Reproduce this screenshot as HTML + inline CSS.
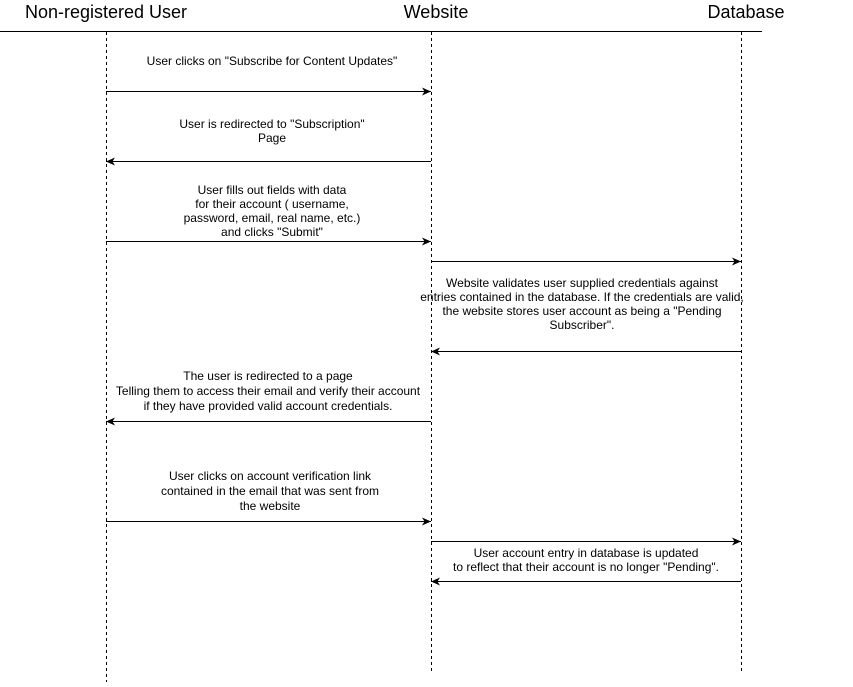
<!DOCTYPE html>
<html><head><meta charset="utf-8"><style>
html,body{margin:0;padding:0;background:#fff;}
svg{display:block;}
text{font-family:"Liberation Sans",Arial,sans-serif;fill:#000;}
.t{font-size:12px;text-anchor:middle;}
.h{font-size:18px;text-anchor:middle;}
</style></head><body>
<svg width="853" height="687" viewBox="0 0 853 687" xmlns="http://www.w3.org/2000/svg">
<defs>
<marker id="a" markerWidth="10" markerHeight="8" refX="9" refY="4" orient="auto" markerUnits="userSpaceOnUse">
<path d="M0,0 L9,4 L0,8 L2.5,4 Z" fill="#000"/>
</marker>
</defs>
<text class="h" x="106" y="18">Non-registered User</text>
<text class="h" x="436" y="18">Website</text>
<text class="h" x="746" y="18">Database</text>
<line x1="0" y1="31.5" x2="762" y2="31.5" stroke="#000" stroke-width="1"/>
<g stroke="#000" stroke-width="1" stroke-dasharray="3,3">
<line x1="106.5" y1="32" x2="106.5" y2="682"/>
<line x1="431.5" y1="32" x2="431.5" y2="672"/>
<line x1="741.5" y1="32" x2="741.5" y2="672"/>
</g>
<g stroke="#000" stroke-width="1" marker-end="url(#a)">
<line x1="106" y1="91.5" x2="431" y2="91.5"/>
<line x1="431" y1="161.5" x2="106" y2="161.5"/>
<line x1="106" y1="241.5" x2="431" y2="241.5"/>
<line x1="431" y1="261.5" x2="741" y2="261.5"/>
<line x1="741" y1="351.5" x2="431" y2="351.5"/>
<line x1="431" y1="421.5" x2="106" y2="421.5"/>
<line x1="106" y1="521.5" x2="431" y2="521.5"/>
<line x1="431" y1="541.5" x2="741" y2="541.5"/>
<line x1="741" y1="581.5" x2="431" y2="581.5"/>
</g>
<text class="t" x="272" y="65">User clicks on "Subscribe for Content Updates"</text>
<text class="t" x="272" y="128">User is redirected to "Subscription"</text>
<text class="t" x="272" y="142">Page</text>
<text class="t" x="272" y="194">User fills out fields with data</text>
<text class="t" x="272" y="208">for their account ( username,</text>
<text class="t" x="272" y="222">password, email, real name, etc.)</text>
<text class="t" x="272" y="236">and clicks "Submit"</text>
<text class="t" x="582" y="287">Website validates user supplied credentials against</text>
<text class="t" x="582" y="301">entries contained in the database. If the credentials are valid,</text>
<text class="t" x="582" y="315">the website stores user account as being a "Pending</text>
<text class="t" x="582" y="329">Subscriber".</text>
<text class="t" x="268" y="380">The user is redirected to a page</text>
<text class="t" x="268" y="395">Telling them to access their email and verify their account</text>
<text class="t" x="268" y="410">if they have provided valid account credentials.</text>
<text class="t" x="270" y="480">User clicks on account verification link</text>
<text class="t" x="270" y="495">contained in the email that was sent from</text>
<text class="t" x="270" y="510">the website</text>
<text class="t" x="586" y="557">User account entry in database is updated</text>
<text class="t" x="586" y="571">to reflect that their account is no longer "Pending".</text>
</svg>
</body></html>
